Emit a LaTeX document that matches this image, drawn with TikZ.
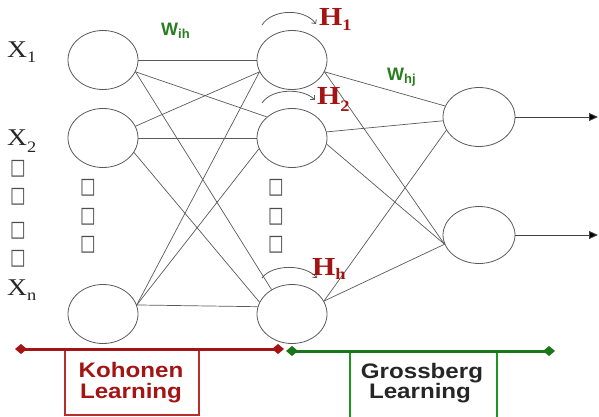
\documentclass[tikz,border=0pt]{standalone}
\usepackage{fontspec}
\usepackage{graphicx}
\setmainfont{Liberation Serif}
\setsansfont{Liberation Sans}
\newfontfamily\symfont{DejaVu Sans}
\usetikzlibrary{arrows.meta,shapes.geometric}
\definecolor{dred}{RGB}{165,20,20}
\definecolor{bred}{RGB}{185,45,45}
\definecolor{dgreen}{RGB}{40,125,30}
\definecolor{lgreen}{RGB}{25,118,25}
\definecolor{bgreen}{RGB}{30,150,30}
\definecolor{edgec}{RGB}{90,90,90}
\newcommand{\sx}[1]{\scalebox{1.15}[1]{#1}}
\newcommand{\tofu}{{\symfont\fontsize{22}{22}\selectfont\scalebox{0.75}[1]{□}}}
\begin{document}
\begin{tikzpicture}[x=1pt,y=-1pt,
  neuron/.style={draw=edgec, line width=0.8pt, ellipse, minimum width=70pt, minimum height=59pt, inner sep=0pt},
  link/.style={draw=edgec, line width=0.7pt},
  selfloop/.style={draw=edgec, line width=0.8pt, -{Straight Barb[length=3pt,width=6pt]}},
  xlab/.style={anchor=base west, inner sep=0pt, font=\fontsize{24}{24}\selectfont, text=black!85},
  hlab/.style={anchor=base west, inner sep=0pt, font=\bfseries\fontsize{26}{26}\selectfont, text=dred},
  wlab/.style={anchor=base west, inner sep=0pt, font=\sffamily\bfseries\fontsize{18}{18}\selectfont, text=dgreen},
  sq/.style={inner sep=0pt, text=black!70},
  phase/.style={line width=3pt, {Diamond[length=12pt,width=10pt]}-{Diamond[length=12pt,width=10pt]}},
  phasebox/.style={line width=1.1pt},
  phasetext/.style={anchor=base, inner sep=0pt, font=\sffamily\bfseries\fontsize{21}{22}\selectfont},
  outarrow/.style={draw=black!75, line width=0.9pt, -{Triangle[length=9pt,width=8pt,fill=black]}}
]
\useasboundingbox (0,0) rectangle (599,417);

% neurons
\node[neuron] (I1) at (103,60) {};
\node[neuron] (I2) at (103,138) {};
\node[neuron] (In) at (103,314) {};
\node[neuron] (H1) at (292,60) {};
\node[neuron] (H2) at (292,138) {};
\node[neuron] (Hh) at (292,314) {};
\node[neuron, minimum width=72pt] (O1) at (479,117) {};
\node[neuron, minimum width=72pt, minimum height=57pt] (O2) at (479,235) {};

% input -> hidden
\draw[link] (I1.east) -- (H1.west);
\draw[link] (I1.-20) -- (H2.140);
\draw[link] (I1.-20) -- (Hh.130);
\draw[link] (I2.20) -- (H1.200);
\draw[link] (I2.east) -- (H2.west);
\draw[link] (I2.-25) -- (Hh.160);
\draw[link] (In.15) -- (H1.200);
\draw[link] (In.15) -- (H2.198);
\draw[link] (In.15) -- (Hh.168);

% hidden -> output
\draw[link] (H1.-20) -- (O1.162);
\draw[link] (H1.-20) -- (O2.195);
\draw[link] (H2.10) -- (O1.186);
\draw[link] (H2.-10) -- (O2.195);
\draw[link] (Hh.22) -- (O1.202);
\draw[link] (Hh.22) -- (O2.195);

% outputs
\coordinate (out1) at (598,117);
\coordinate (out2) at (598,235);
\draw[outarrow] (O1.east) -- (out1);
\draw[outarrow] (O2.east) -- (out2);

% self loops
\draw[selfloop] ([xshift=-30pt,yshift=35pt]H1.center) .. controls +(10,-16) and +(-12,-16) .. ([xshift=24pt,yshift=36pt]H1.center);
\draw[selfloop] ([xshift=-30pt,yshift=35pt]H2.center) .. controls +(10,-15) and +(-12,-12) .. ([xshift=23pt,yshift=38pt]H2.center);
\draw[selfloop] ([xshift=-30pt,yshift=36pt]Hh.center) .. controls +(10,-14) and +(-12,-14) .. ([xshift=25pt,yshift=36pt]Hh.center);

% labels
\node[xlab] (lx1) at (7,58) {\sx{X\raisebox{-5pt}{\fontsize{16}{16}\selectfont 1}}};
\node[xlab] (lx2) at (7,146) {\sx{X\raisebox{-6pt}{\fontsize{16}{16}\selectfont 2}}};
\node[xlab] (lxn) at (7,295) {\sx{X\raisebox{-5pt}{\fontsize{16}{16}\selectfont n}}};
\node[hlab] (lh1) at (319,26) {\sx{H\raisebox{-5pt}{\fontsize{16}{16}\selectfont 1}}};
\node[hlab] (lh2) at (317,105) {\sx{H\raisebox{-6pt}{\fontsize{16}{16}\selectfont 2}}};
\node[hlab] (lhh) at (312,275) {\sx{H\raisebox{-4pt}{\fontsize{16}{16}\selectfont h}}};
\node[wlab] (wih) at (161,36) {W\raisebox{-2.5pt}{\fontsize{13}{13}\selectfont ih}};
\node[wlab] (whj) at (387,81) {W\raisebox{-2.5pt}{\fontsize{13}{13}\selectfont hj}};

% dots (missing glyph boxes)
\node[sq] (s1) at (18,169) {\tofu};
\node[sq] (s2) at (18,197) {\tofu};
\node[sq] (s3) at (18,231) {\tofu};
\node[sq] (s4) at (18,259) {\tofu};
\node[sq] (s5) at (88,188) {\tofu};
\node[sq] (s6) at (88,217) {\tofu};
\node[sq] (s7) at (88,245) {\tofu};
\node[sq] (s8) at (276,188) {\tofu};
\node[sq] (s9) at (276,217) {\tofu};
\node[sq] (s10) at (276,245) {\tofu};

% learning phases
\coordinate (k1) at (15,349);
\coordinate (k2) at (284,349);
\coordinate (g1) at (286,351);
\coordinate (g2) at (555,351);
\draw[phasebox, color=bred] (65,349) rectangle (199,415);
\draw[phasebox, color=bgreen] (350,351) rectangle (497,421);
\node[phasetext, text=dred] (kt1) at (131,377) {\sx{Kohonen}};
\node[phasetext, text=dred] (kt2) at (131,398) {\sx{Learning}};
\node[phasetext, text=black!85] (gt1) at (422,378) {\sx{Grossberg}};
\node[phasetext, text=black!85] (gt2) at (420,398) {\sx{Learning}};
\draw[phase, dred] (k1) -- (k2);
\draw[phase, lgreen] (g1) -- (g2);
\end{tikzpicture}
\end{document}
